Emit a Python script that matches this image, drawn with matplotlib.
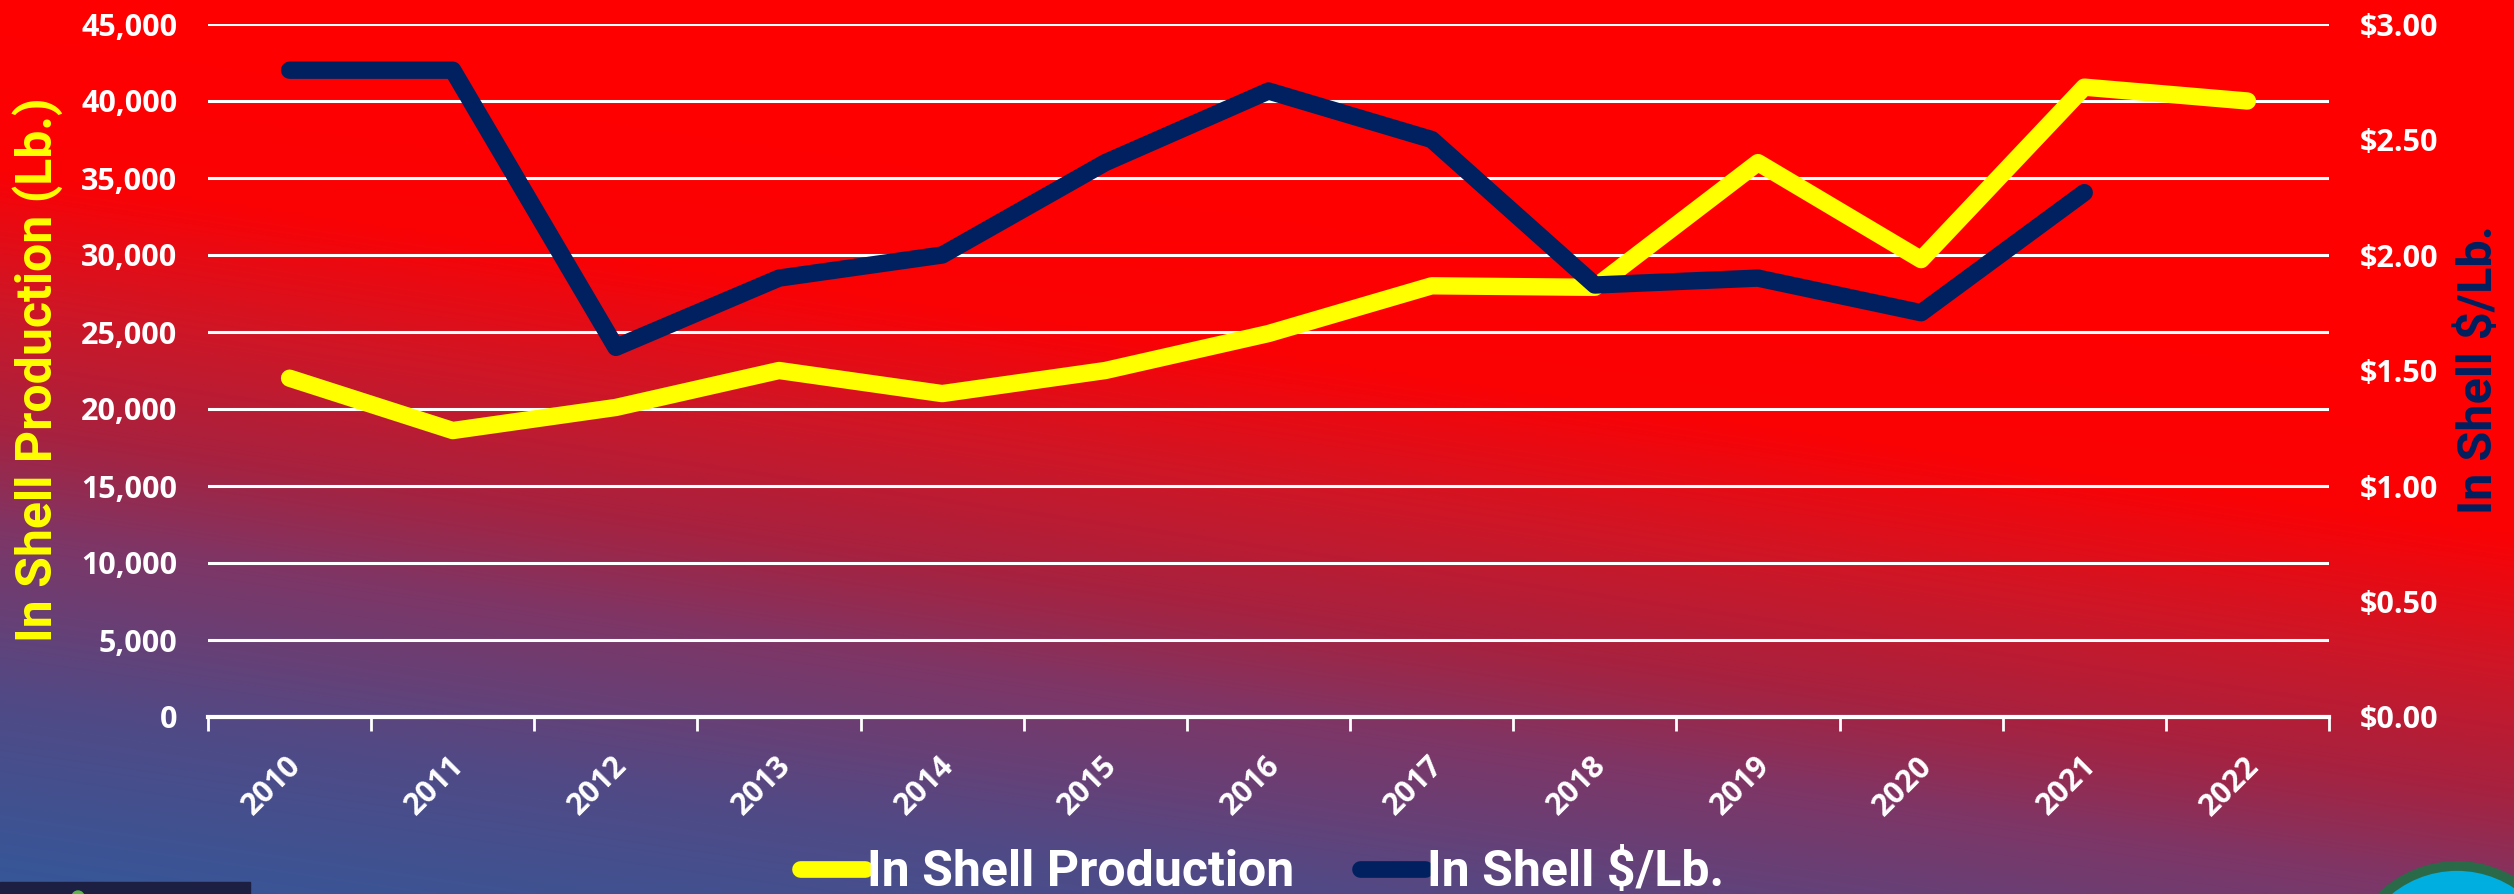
import numpy as np
import matplotlib
matplotlib.use("Agg")
import matplotlib.pyplot as plt
import matplotlib.transforms as mtransforms
from matplotlib.colors import to_rgb
from matplotlib.lines import Line2D
from matplotlib.patches import Rectangle, Circle
from matplotlib.ticker import FuncFormatter, FixedLocator

plt.rcParams["text.parse_math"] = False

# data
years = ["2010", "2011", "2012", "2013", "2014", "2015", "2016",
         "2017", "2018", "2019", "2020", "2021", "2022"]
production = [22000, 18600, 20100, 22500, 21000, 22500, 24900,
              28000, 27900, 36000, 29700, 40900, 40000]
price = [2.80, 2.80, 1.60, 1.90, 2.00, 2.40, 2.71,
         2.50, 1.87, 1.90, 1.75, 2.27, np.nan]

YELLOW = "#FFFF00"
NAVY = "#002060"
TICK_FONT = ["Open Sans", "DejaVu Sans"]
LABEL_FONT = ["Liberation Sans Narrow", "Roboto", "DejaVu Sans"]

W, H = 2514, 894
fig = plt.figure(figsize=(W / 100, H / 100), dpi=100)

# ---- gradient background (red top-right -> blue bottom-left) ----
bg = fig.add_axes([0, 0, 1, 1], zorder=-10)
yy, xx = np.mgrid[0:H:2, 0:W:2]
t = yy - 0.145 * xx
stop_t = [0, 170, 300, 430, 530, 700, 900]
stop_c = ["#FF0000", "#FA0205", "#CF1626", "#A62240", "#7E3666", "#504A86", "#33589A"]
rgb = np.array([to_rgb(c) for c in stop_c])
img = np.stack([np.interp(t, stop_t, rgb[:, k]) for k in range(3)], axis=-1)
bg.imshow(img, extent=[0, W, H, 0], aspect="auto", interpolation="bilinear")
# logo fragments peeking in at the corners
bg.add_patch(Rectangle((0, 882), 250, 14, color="#1C1E42"))
bg.add_patch(Circle((78, 897), 6, color="#5CB848"))
bg.add_patch(Circle((2457, 974), 108, facecolor="#00AEE0", edgecolor="#2A6A48", lw=7))
bg.set_xlim(0, W)
bg.set_ylim(H, 0)
bg.axis("off")

# ---- main axes ----
ax = fig.add_axes([208 / W, (H - 717) / H, (2329 - 208) / W, (717 - 24) / H])
ax.patch.set_alpha(0)
x = np.arange(len(years))
ax.plot(x, production, color=YELLOW, lw=12.5, solid_capstyle="round", zorder=3)
ax.set_xlim(-0.5, len(years) - 0.5)
ax.set_ylim(0, 45000)
ax.set_yticks(np.arange(0, 45001, 5000))
ax.yaxis.set_major_formatter(FuncFormatter(lambda v, p: f"{int(v):,}"))
ax.yaxis.grid(True, color="white", lw=2.2)
ax.set_axisbelow(True)

ax.set_xticks(x)
ax.set_xticklabels(years, rotation=45, ha="right", va="center", rotation_mode="anchor")
ax.xaxis.set_minor_locator(FixedLocator(np.arange(-0.5, len(years), 1.0)))
ax.tick_params(axis="x", which="major", length=0, pad=32, colors="white", labelsize=22)
ax.tick_params(axis="x", which="minor", length=10, width=2, color="white")
ax.tick_params(axis="y", length=0, pad=22, colors="white", labelsize=22)
shift = mtransforms.ScaledTranslation(5 / 72, 0, fig.dpi_scale_trans)
for lab in ax.get_xticklabels():
    lab.set_transform(lab.get_transform() + shift)
for lab in ax.get_xticklabels() + ax.get_yticklabels():
    lab.set_family(TICK_FONT)
    lab.set_fontweight("bold")
for s in ["top", "left", "right"]:
    ax.spines[s].set_visible(False)
ax.spines["bottom"].set_color("white")
ax.spines["bottom"].set_linewidth(3)

ax2 = ax.twinx()
ax2.plot(x, price, color=NAVY, lw=12.5, solid_capstyle="round", zorder=3)
ax2.set_ylim(0, 3)
ax2.set_yticks(np.arange(0, 3.01, 0.5))
ax2.yaxis.set_major_formatter(FuncFormatter(lambda v, p: f"${v:.2f}"))
ax2.tick_params(axis="y", length=0, pad=22, colors="white", labelsize=22)
for lab in ax2.get_yticklabels():
    lab.set_family(TICK_FONT)
    lab.set_fontweight("bold")
for s in ax2.spines.values():
    s.set_visible(False)

# axis titles
fig.text(38 / W, 1 - 370 / H, "In Shell Production (Lb.)", rotation=90,
         color=YELLOW, fontsize=36, fontweight="bold", family=LABEL_FONT,
         ha="center", va="center")
fig.text(2479 / W, 1 - 370 / H, "In Shell $/Lb.", rotation=90,
         color=NAVY, fontsize=35, fontweight="bold", family=LABEL_FONT,
         ha="center", va="center")

# legend
handles = [Line2D([], [], color=YELLOW, lw=12, solid_capstyle="round"),
           Line2D([], [], color=NAVY, lw=12, solid_capstyle="round")]
fig.legend(handles, ["In Shell Production", "In Shell $/Lb."],
           loc="center", bbox_to_anchor=(0.502, 0.024), ncol=2, frameon=False,
           labelcolor="white", prop={"family": LABEL_FONT, "size": 36, "weight": "bold"},
           handlelength=1.3, handletextpad=0.05, columnspacing=1.3)

fig.savefig("out.png", dpi=100)
